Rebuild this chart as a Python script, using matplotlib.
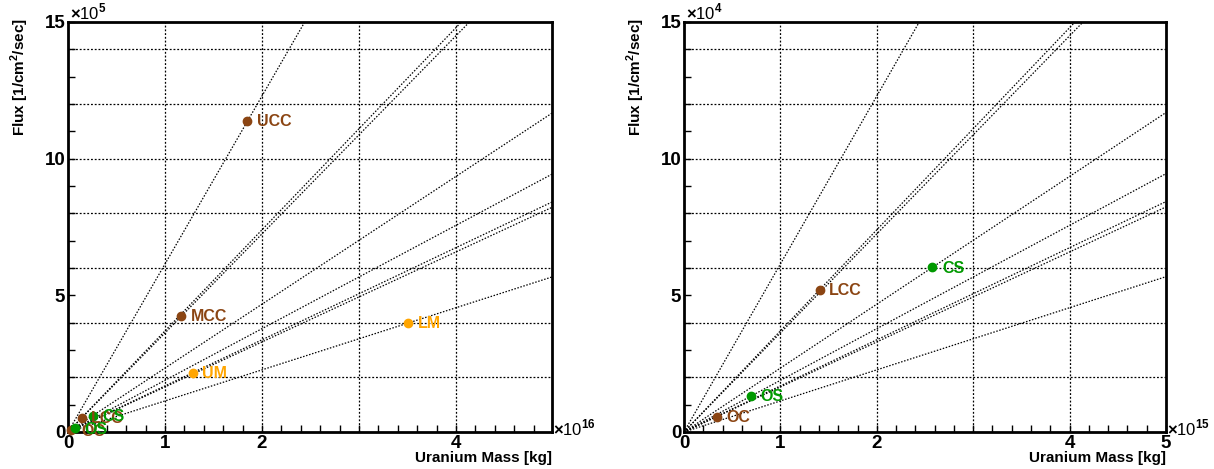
import numpy as np
import matplotlib
matplotlib.use("Agg")
import matplotlib.pyplot as plt

plt.rcParams['font.family'] = ['Liberation Sans', 'DejaVu Sans']
plt.rcParams['mathtext.fontset'] = 'custom'
plt.rcParams['mathtext.rm'] = 'Liberation Sans:bold'
plt.rcParams['mathtext.bf'] = 'Liberation Sans:bold'

# reservoirs: uranium mass [kg] and flux [1/cm2/sec]
names = ['UCC', 'MCC', 'LCC', 'OC', 'UM', 'LM', 'CS', 'OS']
mass = [1.85e16, 1.17e16, 1.406e15, 3.4e14, 1.284e16, 3.51e16, 2.575e15, 6.93e14]
flux = [1.137e6, 4.24e5, 5.20e4, 5.60e3, 2.165e5, 3.99e5, 6.02e4, 1.31e4]
colors = ['#8B4513', '#8B4513', '#8B4513', '#8B4513',
          '#FFA500', '#FFA500', '#009900', '#009900']

right_names = ['LCC', 'CS', 'OS', 'OC']

panels = [
    dict(pos=[0.056, 0.0789, 0.3987, 0.8742], xs=1e16, ys=1e5, xexp='16', yexp='5',
         xlab=[0, 1, 2, 4], show=names, xmax=4.99),
    dict(pos=[0.5634, 0.0789, 0.3971, 0.8742], xs=1e15, ys=1e4, xexp='15', yexp='4',
         xlab=[0, 1, 2, 4, 5], show=right_names, xmax=5.0),
]

fig = plt.figure(figsize=(12.14, 4.69), dpi=100)

for p in panels:
    ax = fig.add_axes(p['pos'])
    xmax = p['xmax']
    ax.set_xlim(0, xmax)
    ax.set_ylim(0, 15)

    # grid
    for gx in [1, 2, 3, 4]:
        ax.axvline(gx, color='black', lw=0.9, ls=(0, (1.5, 1.5)), zorder=1)
    for gy in range(2, 15, 2):
        ax.axhline(gy, color='black', lw=0.9, ls=(0, (1.5, 1.5)), zorder=1)

    # lines through origin for every reservoir
    xx = np.array([0, 6.0])
    for m, f in zip(mass, flux):
        k = (f / p['ys']) / (m / p['xs'])
        ax.plot(xx, k * xx, color='black', lw=0.9, ls=(0, (1.2, 1.3)), zorder=2)

    # points and labels
    for n, m, f, c in zip(names, mass, flux, colors):
        if n not in p['show']:
            continue
        x = m / p['xs']
        y = f / p['ys']
        ax.plot(x, y, 'o', color=c, ms=6, zorder=3, clip_on=False)
        ax.annotate(n, (x, y), xytext=(7, -0.5), textcoords='offset points',
                    color=c, fontsize=11.5, fontweight='bold', va='center', ha='left',
                    zorder=4)

    xt = np.arange(0, xmax + 0.01, 0.2)
    ax.set_xticks(xt)
    ax.set_xticklabels(['%d' % round(t) if any(abs(t - l) < 1e-6 for l in p['xlab']) else ''
                        for t in xt])
    ax.set_yticks(np.arange(0, 16, 1))
    ax.set_yticklabels(['%d' % t if t % 5 == 0 else '' for t in range(16)])
    ax.tick_params(direction='in', length=5, width=1, labelsize=13.5, pad=2,
                   top=False, right=False)
    for lab in ax.get_xticklabels() + ax.get_yticklabels():
        lab.set_fontweight('bold')
    for s in ax.spines.values():
        s.set_linewidth(2)

    ax.set_xlabel('Uranium Mass [kg]', loc='right', fontsize=11, fontweight='bold')
    ax.set_ylabel(r'Flux [1/cm$^{\mathbf{2}}$/sec]', loc='top', fontsize=11,
                  fontweight='bold')
    ax.xaxis.set_label_coords(1.0, -0.047)
    ax.yaxis.set_label_coords(-0.076, 1.01)

    ax.text(0.004, 0.998, r'$\times$10$^{%s}$' % p['yexp'], transform=ax.transAxes,
            ha='left', va='bottom', fontsize=12)
    ax.text(1.003, 0.01, r'$\times$10$^{%s}$' % p['xexp'], transform=ax.transAxes,
            ha='left', va='center', fontsize=12)

fig.savefig('out.png', dpi=100)
